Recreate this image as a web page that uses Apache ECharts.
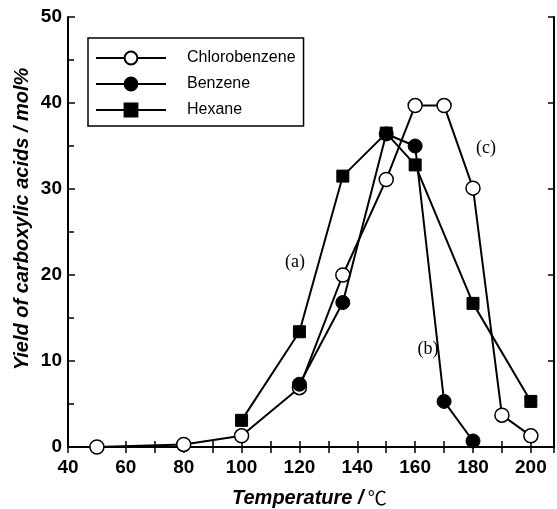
<!DOCTYPE html>
<html>
<head>
<meta charset="utf-8">
<script src="https://cdn.jsdelivr.net/npm/echarts@6/dist/echarts.min.js"></script>
<style>html,body{margin:0;padding:0;background:#fff;}#c{width:557px;height:509px;}</style>
</head>
<body>
<div id="c"></div>
<script>
var chlorobenzene = [[50,0],[80,0.3],[100,1.3],[120,6.9],[135,20],[150,31.1],[160,39.7],[170,39.7],[180,30.1],[190,3.7],[200,1.3]];
var benzene = [[120,7.3],[135,16.8],[150,36.4],[160,35.0],[170,5.3],[180,0.7]];
var hexane = [[100,3.1],[120,13.4],[135,31.5],[150,36.5],[160,32.8],[180,16.7],[200,5.3]];
var seriesNames = ['Chlorobenzene','Benzene','Hexane'];
var annotations = ['(a)','(b)','(c)'];
var xTitle = 'Temperature /';
var yTitle = 'Yield of carboxylic acids / mol%';

var chart = echarts.init(document.getElementById('c'), null, {renderer:'canvas'});
var lab = {fontFamily:'Liberation Sans, Arial, sans-serif', fontWeight:'bold', fontSize:19, color:'#000'};
var axLine = {lineStyle:{color:'#000', width:2}};
var option = {
  animation:false,
  backgroundColor:'#fff',
  grid:{left:68, right:-2, top:17, bottom:62, containLabel:false},
  legend:{
    orient:'vertical', left:88, top:38,
    padding:[12,8,8,7],
    itemWidth:70, itemHeight:16, itemGap:10,
    borderColor:'#000', borderWidth:1.5,
    textStyle:{fontFamily:'Liberation Sans, Arial, sans-serif', fontSize:16, color:'#000', padding:[0,0,0,16]},
    data:seriesNames
  },
  xAxis:[{
    type:'value', min:40, max:208, interval:20,
    axisLine:axLine,
    axisTick:{inside:true, length:6, lineStyle:{color:'#000', width:1.5}},
    minorTick:{show:true, splitNumber:2, length:6, lineStyle:{color:'#000', width:1.5}},
    splitLine:{show:false},
    axisLabel:Object.assign({margin:11, formatter:function(v){return v%20===0 && v<=200 ? String(v) : '';}}, lab)
  },{
    type:'value', position:'top', min:40, max:208, interval:10,
    axisLine:axLine,
    axisTick:{inside:true, length:6, lineStyle:{color:'#000', width:1.5}},
    splitLine:{show:false}, axisLabel:{show:false}
  }],
  yAxis:[{
    type:'value', min:0, max:50, interval:10,
    axisLine:axLine,
    axisTick:{inside:true, length:7, lineStyle:{color:'#000', width:1.5}},
    minorTick:{show:true, splitNumber:2, length:6, lineStyle:{color:'#000', width:1.5}},
    splitLine:{show:false},
    axisLabel:Object.assign({margin:6}, lab)
  },{
    type:'value', position:'right', min:0, max:50, interval:10,
    axisLine:axLine,
    axisTick:{inside:true, length:6, lineStyle:{color:'#000', width:1.5}},
    splitLine:{show:false}, axisLabel:{show:false}
  }],
  series:[
    {name:seriesNames[0], type:'line', data:chlorobenzene, symbol:'circle', symbolSize:14,
     lineStyle:{color:'#000', width:2}, itemStyle:{color:'#fff', borderColor:'#000', borderWidth:1.5}, z:2},
    {name:seriesNames[1], type:'line', data:benzene, symbol:'circle', symbolSize:14,
     lineStyle:{color:'#000', width:2}, itemStyle:{color:'#000', borderColor:'#000', borderWidth:1}, z:3},
    {name:seriesNames[2], type:'line', data:hexane, symbol:'rect', symbolSize:12,
     lineStyle:{color:'#000', width:2}, itemStyle:{color:'#000', borderColor:'#000', borderWidth:1}, z:4}
  ],
  graphic:[
    {type:'text', x:22, y:219, rotation:Math.PI/2,
     style:{text:yTitle, fontFamily:'Liberation Sans, Arial, sans-serif', fontWeight:'bold', fontStyle:'italic', fontSize:20, fill:'#000', align:'center', verticalAlign:'middle'}},
    {type:'text', x:232, y:498,
     style:{text:'{t|'+xTitle+'}{u| ℃}', verticalAlign:'middle', rich:{
       t:{fontFamily:'Liberation Sans, Arial, sans-serif', fontWeight:'bold', fontStyle:'italic', fontSize:20, fill:'#000'},
       u:{fontFamily:'Noto Sans CJK JP, serif', fontSize:19, fill:'#000'}}}},
    {type:'text', x:295, y:262, style:{text:annotations[0], fontFamily:'Liberation Serif, serif', fontSize:18, fill:'#000', align:'center', verticalAlign:'middle'}},
    {type:'text', x:428, y:349, style:{text:annotations[1], fontFamily:'Liberation Serif, serif', fontSize:18, fill:'#000', align:'center', verticalAlign:'middle'}},
    {type:'text', x:486, y:148, style:{text:annotations[2], fontFamily:'Liberation Serif, serif', fontSize:18, fill:'#000', align:'center', verticalAlign:'middle'}}
  ]
};
chart.setOption(option);
</script>
</body>
</html>
